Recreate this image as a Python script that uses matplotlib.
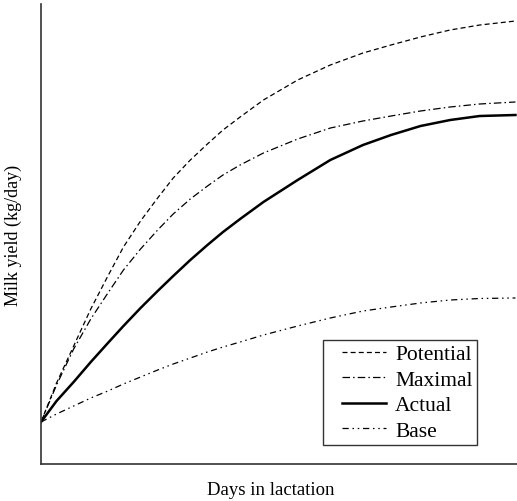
import matplotlib
matplotlib.use("Agg")
import matplotlib.pyplot as plt
from matplotlib.legend_handler import HandlerLine2D

plt.rcParams['font.family'] = ['Liberation Serif', 'DejaVu Serif']

# Days in lactation
days = [0, 10, 21, 32, 43, 53, 64, 75, 85, 96, 107, 117, 128, 143, 165,
        186, 207, 225, 244, 263, 282, 305]

# Milk yield curves (relative units)
potential = [9.13, 17.61, 25.65, 33.70, 40.87, 47.17, 52.83, 57.83, 62.17, 66.09, 69.57,
             72.61, 75.43, 79.13, 83.48, 86.74, 89.35, 91.09, 92.83, 94.35, 95.43, 96.30]
maximal = [9.13, 17.17, 25.00, 31.52, 37.17, 42.17, 46.74, 50.87, 54.35, 57.61, 60.43,
           62.83, 65.00, 67.61, 70.65, 73.04, 74.57, 75.65, 76.74, 77.61, 78.26, 78.70]
actual = [9.13, 13.70, 17.83, 22.17, 26.30, 30.00, 33.91, 37.61, 40.87, 44.35, 47.61,
          50.43, 53.26, 56.96, 61.74, 66.09, 69.35, 71.52, 73.48, 74.78, 75.65, 75.87]
base = [9.13, 10.87, 12.61, 14.35, 15.87, 17.39, 18.91, 20.43, 21.74, 23.04, 24.35,
        25.43, 26.52, 28.04, 30.00, 31.74, 33.26, 34.13, 35.00, 35.65, 35.98, 36.09]

fig = plt.figure(figsize=(5.17, 5.02), dpi=100)
ax = fig.add_axes([41 / 517, 1 - 465 / 502, 476 / 517, 460 / 502])

ax.plot(days, potential, color='black', lw=0.9, dashes=(4, 2.5), label='Potential')
ax.plot(days, maximal, color='black', lw=0.9, dashes=(6, 2.5, 1.2, 2.5), label='Maximal')
ax.plot(days, actual, color='black', lw=1.8, label='Actual')
ax.plot(days, base, color='black', lw=0.9, dashes=(5, 3, 1.2, 3, 1.2, 3), label='Base')

ax.set_xlim(0, 306)
ax.set_ylim(0, 100)
ax.set_xticks([])
ax.set_yticks([])
for side in ('top', 'right'):
    ax.spines[side].set_visible(False)
for side in ('left', 'bottom'):
    ax.spines[side].set_linewidth(1.2)
    ax.spines[side].set_color('#333333')

ax.set_xlabel('Days in lactation', fontsize=13.5, labelpad=12, x=(271 - 41) / 476)
ax.set_ylabel('Milk yield (kg/day)', fontsize=13, labelpad=14)

leg = ax.legend(loc='lower right', bbox_to_anchor=(0.916, 0.041), borderaxespad=0,
                fontsize=15.5, frameon=True, fancybox=False, edgecolor='black',
                handlelength=2.7, handletextpad=0.45, labelspacing=0.25,
                borderpad=0.2, handler_map={plt.Line2D: HandlerLine2D(xpad=0.7)})
leg.get_frame().set_linewidth(1.0)

fig.savefig('out.png', dpi=100)
